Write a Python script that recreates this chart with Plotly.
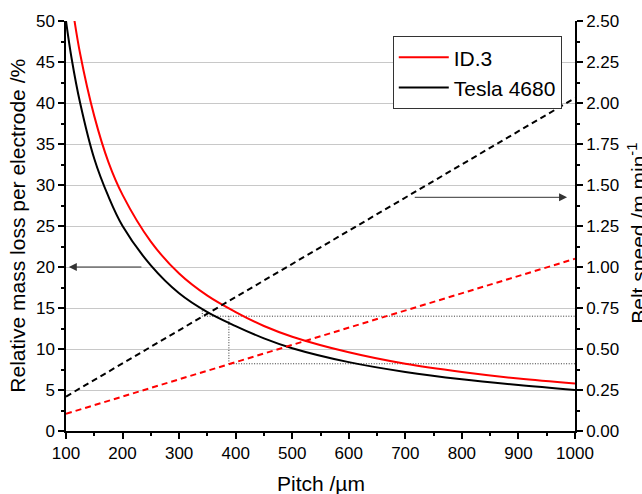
import plotly.graph_objects as go

# Relative mass loss per electrode (%) versus pitch (µm)
pitch = [100, 110, 125, 150, 175, 200, 250, 300, 350, 400, 450, 500, 600, 700, 800, 900, 1000]
loss_id3 = [57.5, 52.3, 46.0, 38.4, 32.8, 28.8, 23.1, 19.2, 16.5, 14.5, 12.8, 11.5, 9.6, 8.2, 7.2, 6.4, 5.8]
loss_tesla = [50.0, 45.4, 40.0, 33.2, 28.6, 25.0, 20.2, 16.8, 14.5, 12.8, 11.3, 10.1, 8.4, 7.2, 6.3, 5.6, 5.0]

# Belt speed (m/min) versus pitch (µm)
speed_pitch = [100, 1000]
speed_id3 = [0.105, 1.05]
speed_tesla = [0.21, 2.03]

# Read-off guide lines (pitch in µm, mass loss in %)
guide_pitch_a = 341
guide_pitch_b = 388
guide_pitch_end = 1000
guide_loss_cross = 14.7
guide_loss_hi = 14.0
guide_loss_lo = 8.2

# Arrows pointing to the axis each curve family belongs to
arrow_left = dict(y=20, tail=236, head=105)
arrow_right = dict(y=1.425, tail=714, head=986)

FONT = "Arial, 'Liberation Sans', sans-serif"
RED = "#ff0000"
BLACK = "#000000"

fig = go.Figure()

fig.add_trace(go.Scatter(
    x=[guide_pitch_a, guide_pitch_a, guide_pitch_end, None,
       guide_pitch_b, guide_pitch_b, guide_pitch_end],
    y=[guide_loss_cross, guide_loss_hi, guide_loss_hi, None,
       guide_loss_hi, guide_loss_lo, guide_loss_lo],
    mode="lines", line=dict(color="#333333", width=1, dash="1px,1.6px"),
    showlegend=False, hoverinfo="skip",
))

fig.add_trace(go.Scatter(
    x=speed_pitch, y=speed_id3, yaxis="y2", mode="lines",
    line=dict(color=RED, width=2, dash="6px,4px"), showlegend=False,
))
fig.add_trace(go.Scatter(
    x=speed_pitch, y=speed_tesla, yaxis="y2", mode="lines",
    line=dict(color=BLACK, width=2, dash="6px,4px"), showlegend=False,
))

fig.add_trace(go.Scatter(
    x=pitch, y=loss_id3, mode="lines", name="ID.3",
    line=dict(color=RED, width=2, shape="spline", smoothing=1),
))
fig.add_trace(go.Scatter(
    x=pitch, y=loss_tesla, mode="lines", name="Tesla 4680",
    line=dict(color=BLACK, width=2, shape="spline", smoothing=1),
))

axis_common = dict(
    showline=True, linecolor=BLACK, linewidth=1.5,
    ticks="outside", ticklen=6, tickwidth=1.5, tickcolor=BLACK,
    tickfont=dict(family=FONT, size=17, color=BLACK),
    zeroline=False,
)

fig.update_layout(
    width=642, height=494,
    margin=dict(l=66, r=67, t=21, b=63),
    paper_bgcolor="white", plot_bgcolor="white",
    font=dict(family=FONT, color=BLACK),
    xaxis=dict(
        range=[100, 1000], dtick=100, tick0=100, showgrid=False,
        minor=dict(ticks="outside", ticklen=3.5, tickwidth=1.5, tickcolor=BLACK, dtick=50),
        **axis_common,
    ),
    xaxis2=dict(
        range=[100, 1000], dtick=100, tick0=100, overlaying="x", side="top",
        anchor="y", showgrid=False, showticklabels=False,
        showline=True, linecolor=BLACK, linewidth=1.5,
        ticks="inside", ticklen=6, tickwidth=1.5, tickcolor=BLACK,
        minor=dict(ticks="inside", ticklen=3.5, tickwidth=1.5, tickcolor=BLACK, dtick=50),
        zeroline=False,
    ),
    yaxis=dict(
        range=[0, 50], dtick=5, showgrid=True, gridcolor="#c8c8c8", gridwidth=1,
        minor=dict(ticks="outside", ticklen=3.5, tickwidth=1.5, tickcolor=BLACK, dtick=2.5),
        **axis_common,
    ),
    yaxis2=dict(
        range=[0, 2.5], dtick=0.25, tickformat=".2f", overlaying="y", side="right",
        anchor="x", showgrid=False,
        minor=dict(ticks="outside", ticklen=3.5, tickwidth=1.5, tickcolor=BLACK, dtick=0.125),
        **axis_common,
    ),
    legend=dict(
        x=0.642, y=0.963, xanchor="left", yanchor="top",
        bgcolor="white", bordercolor="#333333", borderwidth=1,
        font=dict(family=FONT, size=21, color=BLACK),
        tracegroupgap=0, itemwidth=50,
    ),
    showlegend=True,
)

title_font = dict(family=FONT, size=21, color=BLACK)
fig.add_annotation(
    text="Pitch /µm", xref="paper", yref="paper", x=0.501, y=-0.127,
    xanchor="center", yanchor="middle", showarrow=False, font=title_font,
)
fig.add_annotation(
    text="Relative mass loss per electrode /%", xref="paper", yref="paper",
    x=-0.0953, y=0.502, xanchor="center", yanchor="middle", textangle=-90,
    showarrow=False, font=title_font,
)
fig.add_annotation(
    text="Belt speed /m min<sup>-1</sup>", xref="paper", yref="paper",
    x=1.1225, y=0.482, xanchor="center", yanchor="middle", textangle=-90,
    showarrow=False, font=title_font,
)

fig.add_annotation(
    x=arrow_left["head"], y=arrow_left["y"], xref="x", yref="y",
    ax=arrow_left["tail"], ay=arrow_left["y"], axref="x", ayref="y",
    text="", showarrow=True, arrowhead=2, arrowsize=1.6, arrowwidth=1,
    arrowcolor="#333333", standoff=0, startstandoff=0,
)
fig.add_annotation(
    x=arrow_right["head"], y=arrow_right["y"], xref="x", yref="y2",
    ax=arrow_right["tail"], ay=arrow_right["y"], axref="x", ayref="y2",
    text="", showarrow=True, arrowhead=2, arrowsize=1.6, arrowwidth=1,
    arrowcolor="#333333", standoff=0, startstandoff=0,
)

fig.write_html("out.html")
